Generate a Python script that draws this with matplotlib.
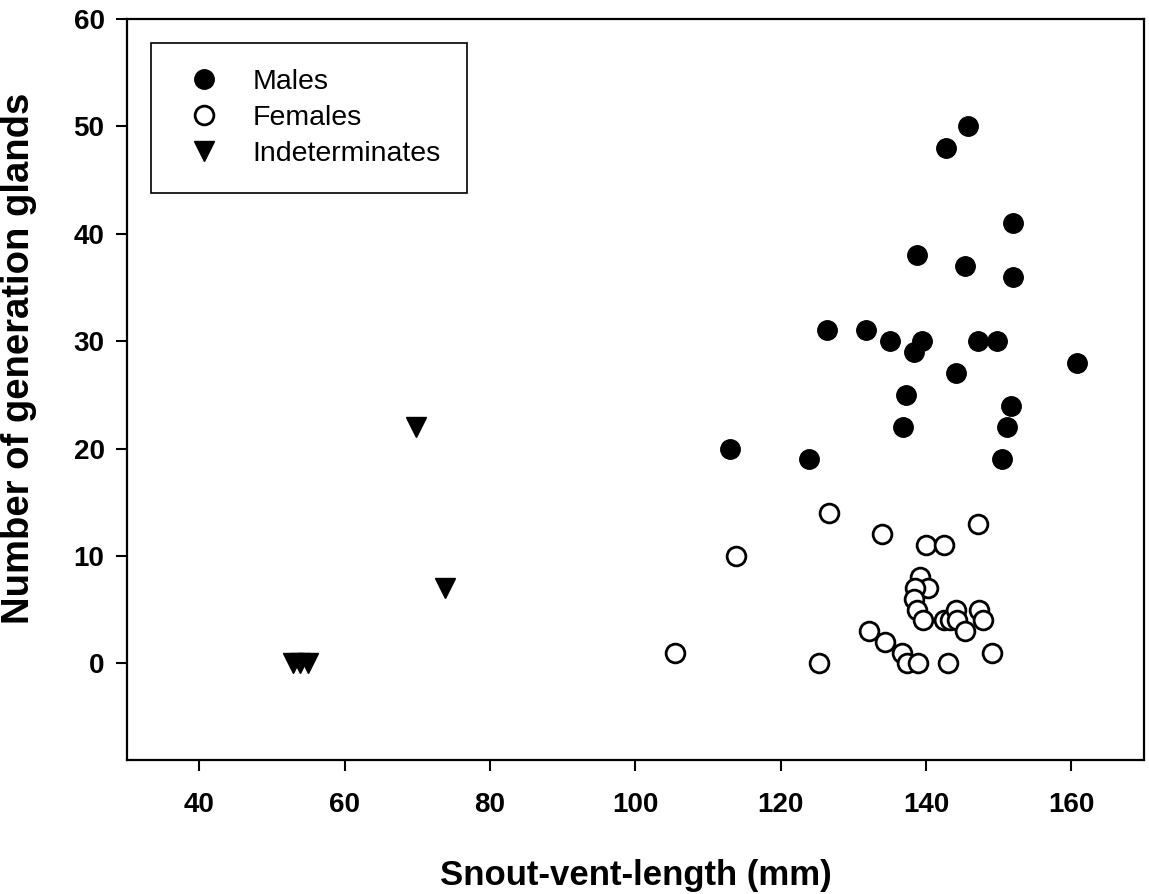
import matplotlib
matplotlib.use("Agg")
import matplotlib.pyplot as plt

plt.rcParams['font.family'] = ['Liberation Sans', 'DejaVu Sans']

# snout-vent-length (mm), number of generation glands
male_x = [145.8, 142.8, 151.9, 138.8, 145.4, 151.9, 126.4, 131.8, 135.1, 139.4, 138.4,
          147.1, 149.8, 160.8, 144.1, 137.2, 136.8, 151.7, 151.2, 123.9, 150.4, 113.0]
male_y = [50, 48, 41, 38, 37, 36, 31, 31, 30, 30, 29,
          30, 30, 28, 27, 25, 22, 24, 22, 19, 19, 20]

female_x = [126.6, 134.0, 147.1, 140.0, 142.5, 113.8, 139.1, 140.3, 138.5, 138.3, 138.8,
            139.6, 142.5, 143.3, 144.1, 144.3, 145.4, 147.3, 147.9, 132.2, 134.3,
            136.7, 137.4, 138.9, 143.0, 149.1, 125.2, 105.4]
female_y = [14, 12, 13, 11, 11, 10, 8, 7, 7, 6, 5,
            4, 4, 4, 5, 4, 3, 5, 4, 3, 2,
            1, 0, 0, 0, 1, 0, 1]

indet_x = [69.8, 73.8, 52.9, 53.9, 55.0]
indet_y = [22, 7, 0, 0, 0]

fig = plt.figure(figsize=(11.49, 8.94), dpi=100)
ax = fig.add_axes([0.1103, 0.1499, 0.8854, 0.8288])

ax.plot(male_x, male_y, 'o', color='black', markersize=14, label='Males', zorder=3)
ax.plot(female_x, female_y, 'o', markerfacecolor='white', markeredgecolor='black',
        markeredgewidth=2, markersize=13.5, label='Females', zorder=3)
ax.plot(indet_x, indet_y, 'v', color='black', markersize=14, label='Indeterminates', zorder=3)

ax.set_xlim(30, 170)
ax.set_ylim(-9, 60)
ax.set_xticks([40, 60, 80, 100, 120, 140, 160])
ax.set_yticks([0, 10, 20, 30, 40, 50, 60])

for s in ax.spines.values():
    s.set_linewidth(1.6)
ax.tick_params(axis='both', direction='out', length=8, width=1.5, labelsize=20)
ax.tick_params(axis='x', pad=15)
ax.tick_params(axis='y', pad=8)
for lab in ax.get_xticklabels() + ax.get_yticklabels():
    lab.set_fontweight('bold')

ax.set_xlabel('Snout-vent-length (mm)', fontsize=25, fontweight='bold')
ax.set_ylabel('Number of generation glands', fontsize=27.5, fontweight='bold')
ax.xaxis.set_label_coords(0.5, -0.133)
ax.xaxis.label.set_va('top')
ax.yaxis.set_label_coords(-0.088, 0.542)

leg = ax.legend(loc='upper left', bbox_to_anchor=(150.7 / 1149, 1 - 43.3 / 894),
                bbox_transform=fig.transFigure, borderaxespad=0, fontsize=20.5,
                frameon=True, fancybox=False, edgecolor='black', framealpha=1,
                borderpad=0.9, handlelength=1.92, handletextpad=0.76, labelspacing=0.36,
                numpoints=1)
leg.get_frame().set_linewidth(1.2)

fig.savefig('out.png', dpi=100)
